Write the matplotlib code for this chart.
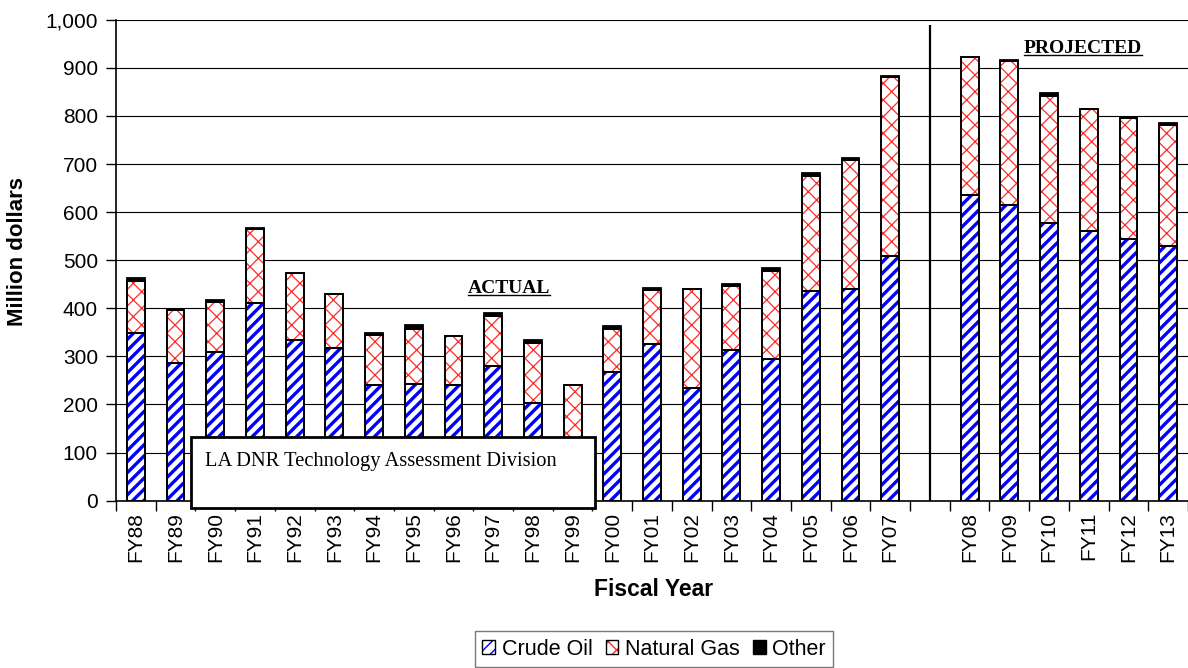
#!/usr/bin/env python3

import numpy as np
import matplotlib
matplotlib.use('Agg')
import matplotlib.pyplot as plt
from matplotlib.patches import Patch, Rectangle
from matplotlib.lines import Line2D
from matplotlib.transforms import IdentityTransform
from matplotlib.legend_handler import HandlerTuple

# fiscal years, actual (FY88-FY07) and projected (FY08-FY13), million dollars
actual_years = ['FY88', 'FY89', 'FY90', 'FY91', 'FY92', 'FY93', 'FY94', 'FY95',
                'FY96', 'FY97', 'FY98', 'FY99', 'FY00', 'FY01', 'FY02', 'FY03',
                'FY04', 'FY05', 'FY06', 'FY07']
projected_years = ['FY08', 'FY09', 'FY10', 'FY11', 'FY12', 'FY13']

crude_oil = [349, 287, 309, 412, 335, 317, 240, 243, 240, 280, 203, 128, 268,
             326, 234, 313, 295, 437, 440, 509,
             636, 614, 578, 560, 545, 530]
natural_gas = [108, 109, 104, 152, 138, 113, 104, 115, 102, 104, 125, 112, 90,
               112, 206, 133, 183, 238, 268, 372,
               286, 300, 264, 255, 251, 251]
other = [5, 0, 5, 2, 0, 0, 5, 7, 0, 6, 6, 0, 5,
         5, 0, 5, 6, 6, 5, 1,
         1, 2, 5, 0, 0, 5]

yticks = np.arange(0, 1001, 100)

labels = actual_years + projected_years
# one empty slot between actual and projected
n_act = len(actual_years)
xpos = np.concatenate([np.arange(n_act), n_act + 1 + np.arange(len(projected_years))])
gap_x = n_act

crude_oil = np.array(crude_oil, float)
natural_gas = np.array(natural_gas, float)
other = np.array(other, float)

plt.rcParams['font.family'] = ['Liberation Sans', 'DejaVu Sans']
W, H = 1188, 668
fig = plt.figure(figsize=(W / 100, H / 100), dpi=100)
ax = fig.add_axes([116 / W, 1 - 500.7 / H, 1 - 116 / W, (500.7 - 19.7) / H])

width = 0.45
BLUE = '#0000ff'
RED = '#ff2a2a'
FS = 15


def hatched(bars, lw):
    for b in bars:
        if hasattr(b, 'set_hatch_linewidth'):
            b.set_hatch_linewidth(lw)


with plt.rc_context({'hatch.linewidth': 2.4}):
    oil_bars = ax.bar(xpos, crude_oil, width, color='white', edgecolor=BLUE,
                      hatch='///', linewidth=0, zorder=2)
    hatched(oil_bars, 2.4)
with plt.rc_context({'hatch.linewidth': 0.9}):
    gas_bars = ax.bar(xpos, natural_gas, width, bottom=crude_oil, color='white',
                      edgecolor=RED, hatch='xx', linewidth=0, zorder=2)
    hatched(gas_bars, 0.9)
ax.bar(xpos, other, width, bottom=crude_oil + natural_gas, color='black',
       edgecolor='black', linewidth=1.3, zorder=3)
# outlines
ax.bar(xpos, crude_oil, width, fill=False, edgecolor='black', linewidth=1.4, zorder=3)
ax.bar(xpos, natural_gas, width, bottom=crude_oil, fill=False, edgecolor='black',
       linewidth=1.4, zorder=3)

ax.set_xlim(-0.5, 26.37)
ax.set_ylim(0, 1000)
ax.set_yticks(yticks)
ax.set_yticklabels(['{:,}'.format(v) for v in yticks])
ax.yaxis.grid(True, color='black', linewidth=0.8)
ax.set_axisbelow(True)

ax.set_xticks(np.arange(-0.5, 27, 1))
ax.set_xticklabels([])
ax.set_xticks(xpos, minor=True)
ax.set_xticklabels(labels, minor=True, rotation=90, va='top')
ax.tick_params(axis='x', which='major', length=7, width=1, direction='out')
ax.tick_params(axis='x', which='minor', length=0, pad=8, labelsize=FS)
ax.tick_params(axis='y', length=7, width=1, direction='out', pad=6, labelsize=FS)

for s in ['top', 'right']:
    ax.spines[s].set_visible(False)
for s in ['left', 'bottom']:
    ax.spines[s].set_linewidth(1.2)

ax.vlines(gap_x, 0, 990, color='black', linewidth=1.6, zorder=4)

fig.text(18 / W, 1 - 252 / H, 'Million dollars', rotation=90, ha='center',
         va='center', fontsize=16, fontweight='bold')
fig.text(654 / W, 1 - 589 / H, 'Fiscal Year', ha='center', va='center',
         fontsize=16.5, fontweight='bold')

serif = ['Liberation Serif', 'DejaVu Serif']
t_act = ax.text(9.4, 432, 'ACTUAL', ha='center', va='baseline', fontsize=14,
                fontweight='bold', family=serif, zorder=5)
t_proj = ax.text(23.85, 930, 'PROJECTED', ha='center', va='baseline', fontsize=14,
                 fontweight='bold', family=serif, zorder=5)

# text box
box = Rectangle((191 / W, 1 - 508 / H), (595 - 191) / W, (508 - 437) / H,
                transform=fig.transFigure, facecolor='white', edgecolor='black',
                linewidth=2.0, zorder=10)
fig.add_artist(box)
t_box = fig.text(205 / W, 1 - 466 / H, 'LA DNR Technology Assessment Division',
                 ha='left', va='baseline', fontsize=14.8, family=serif, zorder=11)

# legend
h_oil = (Patch(facecolor='white', edgecolor=BLUE, hatch='///', linewidth=0),
         Patch(facecolor='none', edgecolor='black', linewidth=1.0))
h_gas = (Patch(facecolor='white', edgecolor=RED, hatch='xx', linewidth=0),
         Patch(facecolor='none', edgecolor='black', linewidth=1.0))
h_oth = Patch(facecolor='black', edgecolor='black')
for p in h_oil[:1]:
    if hasattr(p, 'set_hatch_linewidth'):
        p.set_hatch_linewidth(2.0)
for p in h_gas[:1]:
    if hasattr(p, 'set_hatch_linewidth'):
        p.set_hatch_linewidth(0.9)
leg = fig.legend([h_oil, h_gas, h_oth], ['Crude Oil', 'Natural Gas', 'Other'],
                 handler_map={tuple: HandlerTuple(ndivide=1, pad=0)},
                 loc='upper center', bbox_to_anchor=(654 / W, 1 - 631 / H),
                 ncol=3, fontsize=15.5, frameon=True, fancybox=False, shadow=False,
                 handlelength=0.6, handleheight=0.6, handletextpad=0.3,
                 columnspacing=0.6, borderpad=0.35, borderaxespad=0)
leg.get_frame().set_edgecolor('#555555')
leg.get_frame().set_linewidth(1.0)

# underline the section labels
fig.canvas.draw()
for t in (t_act, t_proj):
    bb = t.get_window_extent()
    base = ax.transData.transform(t.get_position())[1] - 2
    fig.add_artist(Line2D([bb.x0, bb.x1], [base, base], color='black',
                          linewidth=1.0, transform=IdentityTransform()))

fig.savefig('out.png', dpi=100)
